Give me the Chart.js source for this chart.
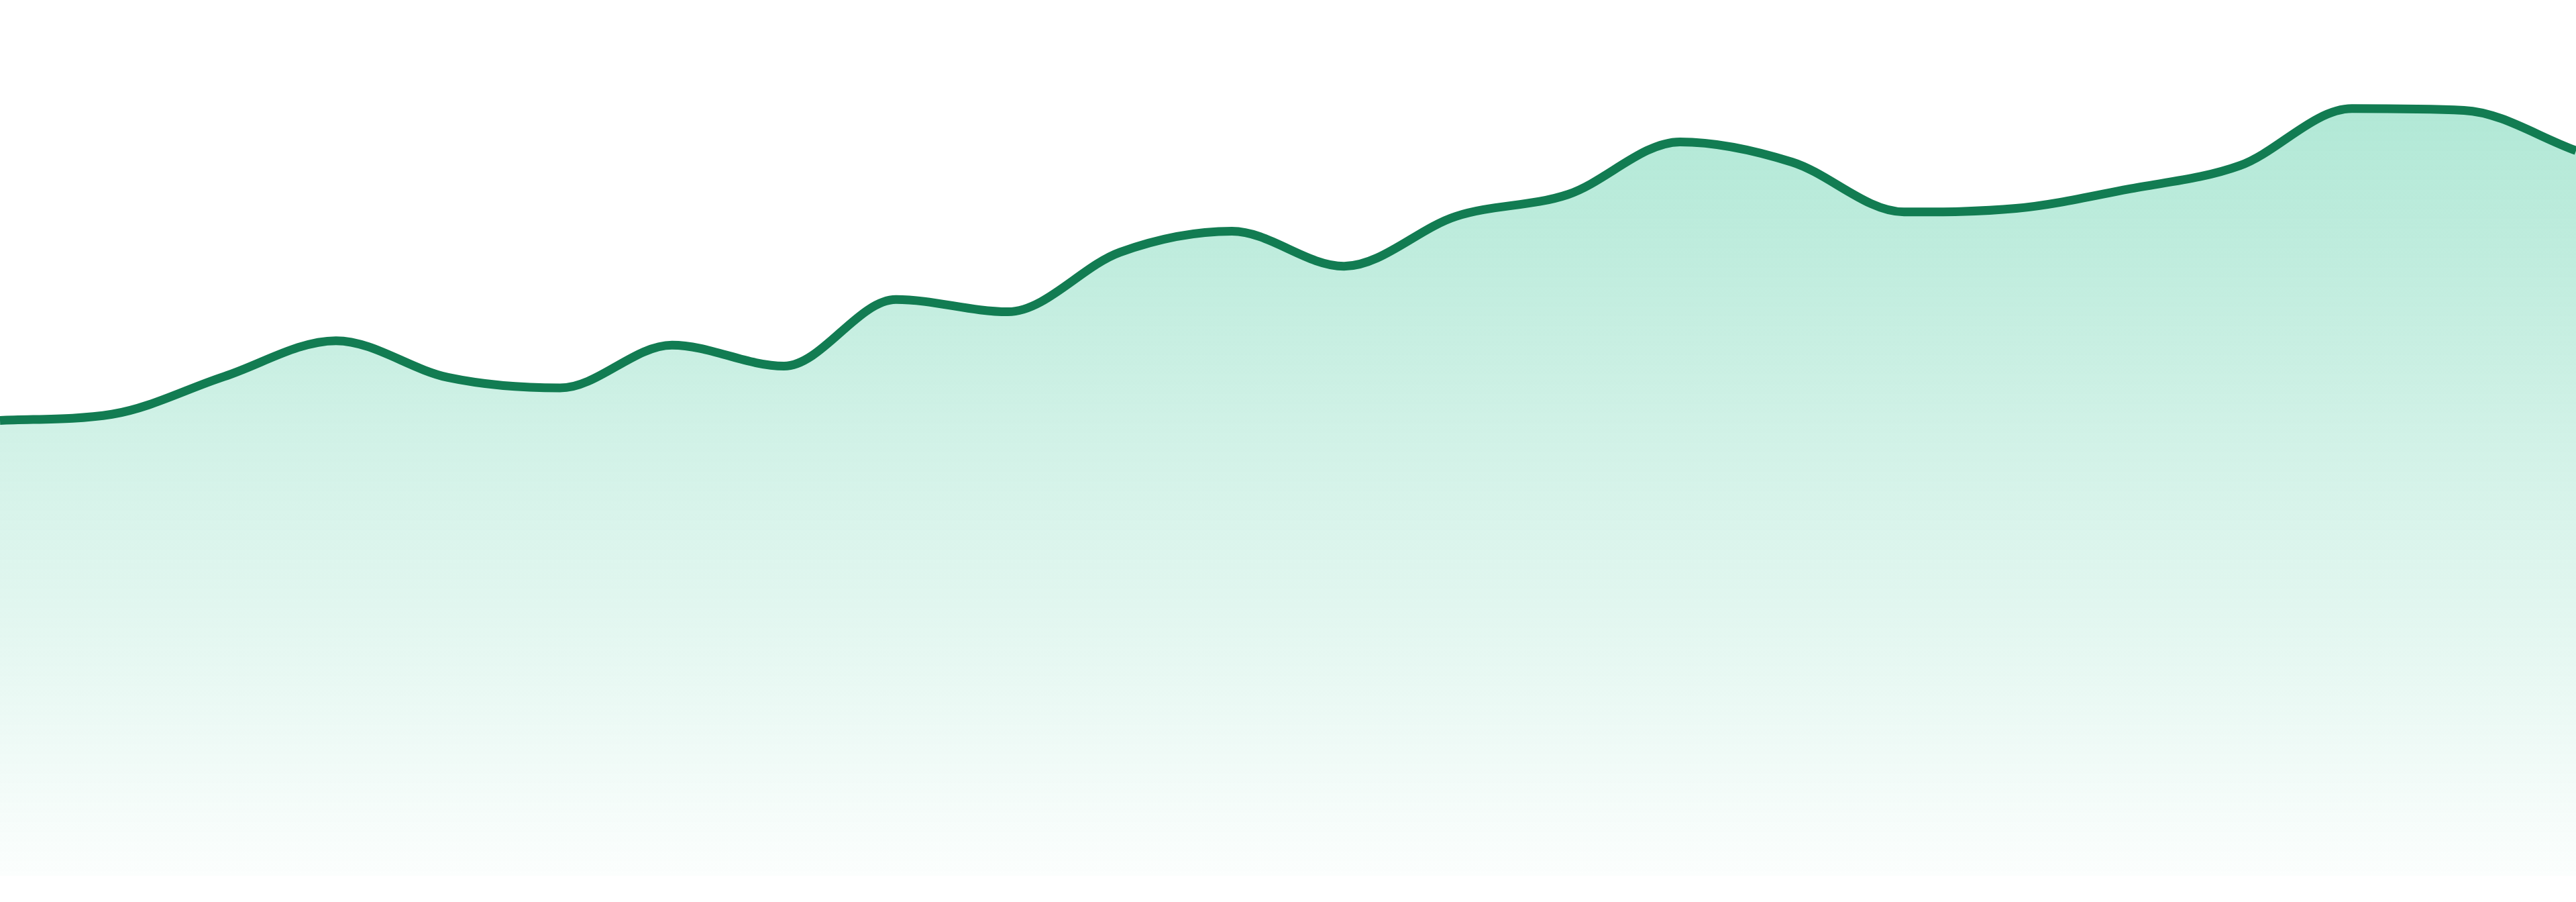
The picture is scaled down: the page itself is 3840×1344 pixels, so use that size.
<!DOCTYPE html>
<html>
<head>
<meta charset="utf-8">
<script src="https://cdn.jsdelivr.net/npm/chart.js@4/dist/chart.umd.min.js"></script>
<style>
  html, body { margin: 0; padding: 0; background: #ffffff; }
  #wrap { position: relative; width: 3840px; height: 1344px; }
</style>
</head>
<body>
<div id="wrap"><canvas id="trend"></canvas></div>
<script>
// Sparkline-style area chart: one green series, no axes, gradient fill fading to white.

const LABELS = [
  "W1", "W2", "W3", "W4", "W5", "W6", "W7", "W8", "W9", "W10", "W11", "W12",
  "W13", "W14", "W15", "W16", "W17", "W18", "W19", "W20", "W21", "W22", "W23", "W24",
];
const VALUES = [
  52.0, 52.7, 57.0, 61.1, 56.9, 55.7, 60.6, 58.2, 65.8, 64.4, 71.2, 73.6,
  69.6, 75.3, 77.8, 83.8, 81.5, 75.8, 76.2, 78.4, 81.1, 87.6, 87.4, 82.8,
];
const Y_MIN = 0;
const Y_MAX = 100;

const LINE = "#127c52";
const FILL_RGB = "16, 185, 129";

function areaGradient(ctx) {
  const area = ctx.chart.chartArea;
  if (!area) return `rgba(${FILL_RGB}, 0.2)`;
  const g = ctx.chart.ctx.createLinearGradient(0, area.top, 0, area.bottom);
  g.addColorStop(0, `rgba(${FILL_RGB}, 0.37)`);
  g.addColorStop(1, `rgba(${FILL_RGB}, 0.015)`);
  return g;
}

new Chart(document.getElementById("trend"), {
  type: "line",
  data: {
    labels: LABELS,
    datasets: [{
      data: VALUES,
      borderColor: LINE,
      borderWidth: 13,
      backgroundColor: areaGradient,
      fill: "start",
      cubicInterpolationMode: "monotone",
      pointRadius: 0,
      pointHoverRadius: 0,
    }],
  },
  options: {
    responsive: true,
    maintainAspectRatio: false,
    animation: false,
    layout: { padding: { top: 0, left: 0, right: 0, bottom: 39 } },
    plugins: { legend: { display: false }, tooltip: { enabled: false } },
    scales: {
      x: { display: false, offset: false },
      y: { display: false, min: Y_MIN, max: Y_MAX },
    },
  },
});
</script>
</body>
</html>
